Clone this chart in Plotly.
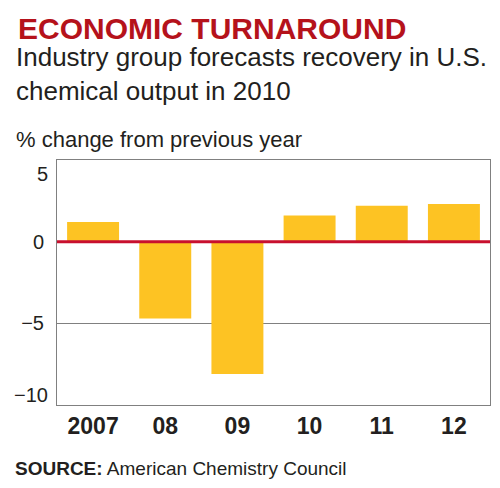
import plotly.graph_objects as go

# data
years = ['2007', '08', '09', '10', '11', '12']
pct_change = [1.2, -4.7, -8.1, 1.6, 2.2, 2.3]
y_ticks = [5, 0, -5, -10]
y_tick_labels = ['5', '0', '\u22125', '\u221210']

title_text = 'ECONOMIC TURNAROUND'
subtitle_text = 'Industry group forecasts recovery in U.S.<br>chemical output in 2010'
unit_text = '% change from previous year'
source_text = '<b>SOURCE:</b> American Chemistry Council'

FONT = 'Liberation Sans'
TEXT_COLOR = '#231f20'
BAR_COLOR = '#fdc323'
RED = '#c8102e'

# plot area in pixels (left, right, top, bottom)
W, H = 500, 488
PL, PR, PT, PB = 57, 490, 160, 405


def px_x(px):
    return (px - PL) / (PR - PL)


def px_y(py):
    return (PB - py) / (PB - PT)


fig = go.Figure(go.Bar(x=years,
                       y=pct_change,
                       marker=dict(color=BAR_COLOR, line=dict(width=0)),
                       width=0.72,
                       hoverinfo='skip'))

# red zero line on top of bars
fig.add_shape(type='line', xref='paper', yref='y',
              x0=0, x1=1, y0=0, y1=0,
              line=dict(color=RED, width=3), layer='above')

# the inner tick labels sit on their gridlines, the outer two are nudged inside the frame
inner = [(v, t) for v, t in zip(y_ticks, y_tick_labels) if v not in (max(y_ticks), min(y_ticks))]

fig.update_layout(
    width=W, height=H,
    margin=dict(l=PL, r=W - PR, t=PT, b=H - PB),
    paper_bgcolor='white',
    plot_bgcolor='white',
    showlegend=False,
    font=dict(family=FONT, color=TEXT_COLOR),
    xaxis=dict(showgrid=False,
               showline=True, linecolor='#808080', linewidth=1, mirror=True,
               ticks='',
               tickfont=dict(size=23, family=FONT, weight='bold', color=TEXT_COLOR),
               fixedrange=True),
    yaxis=dict(range=[min(y_ticks), max(y_ticks)],
               tickvals=y_ticks,
               ticktext=[t if (v, t) in inner else '' for v, t in zip(y_ticks, y_tick_labels)],
               showgrid=True, gridcolor='#808080', gridwidth=1,
               zeroline=False,
               showline=True, linecolor='#808080', linewidth=1, mirror=True,
               ticks='', ticklabelstandoff=8,
               tickfont=dict(size=20, color=TEXT_COLOR),
               fixedrange=True),
    bargap=0.28,
)

for v, t in zip(y_ticks, y_tick_labels):
    if v == max(y_ticks):
        fig.add_annotation(xref='paper', yref='y', x=0, y=v, text=t, showarrow=False,
                           xanchor='right', yanchor='top', xshift=-7, yshift=-1,
                           font=dict(size=20, color=TEXT_COLOR, family=FONT))
    elif v == min(y_ticks):
        fig.add_annotation(xref='paper', yref='y', x=0, y=v, text=t, showarrow=False,
                           xanchor='right', yanchor='bottom', xshift=-7, yshift=-3,
                           font=dict(size=20, color=TEXT_COLOR, family=FONT))

annos = [
    dict(text=title_text, x=px_x(16), y=px_y(28),
         font=dict(size=30, color='#b5121b', family=FONT, weight='bold')),
    dict(text=subtitle_text, x=px_x(14), y=px_y(74),
         font=dict(size=26, color=TEXT_COLOR, family=FONT)),
    dict(text=unit_text, x=px_x(14), y=px_y(140),
         font=dict(size=22, color=TEXT_COLOR, family=FONT)),
    dict(text=source_text, x=px_x(13), y=px_y(468),
         font=dict(size=19, color=TEXT_COLOR, family=FONT)),
]
for a in annos:
    fig.add_annotation(xref='paper', yref='paper', xanchor='left', yanchor='middle',
                       showarrow=False, align='left', **a)

# drop the page's default body margin so the figure sits at the window's corner
fig.write_html('out.html', config={'displayModeBar': False},
               post_script="document.body.style.margin='0';")
